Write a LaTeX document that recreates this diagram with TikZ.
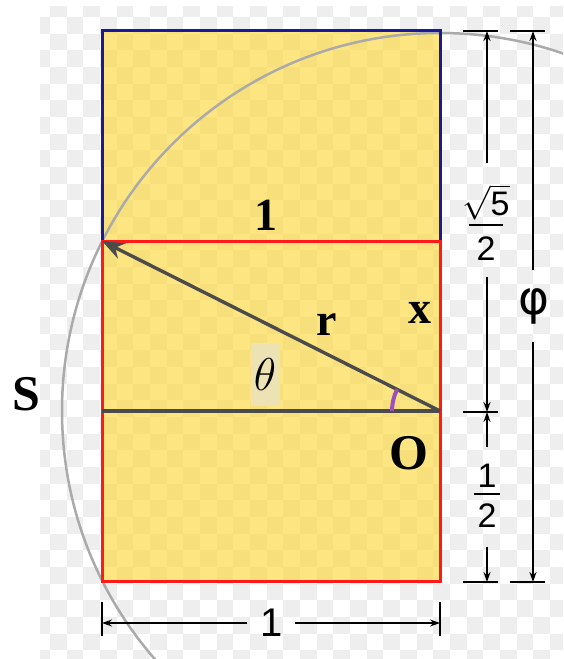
\documentclass[tikz,border=0pt]{standalone}
\usepackage{fix-cm}
\usepackage{fontspec}
\newfontfamily\dimfont{Liberation Sans}
\newfontfamily\phifont{DejaVu Sans}
\newfontfamily\lblfont{Liberation Serif}
\usetikzlibrary{arrows.meta}
\definecolor{chk}{RGB}{238,238,238}
\definecolor{yel}{RGB}{252,217,63}
\definecolor{navyb}{RGB}{26,26,150}
\definecolor{redb}{RGB}{255,25,25}
\definecolor{circc}{RGB}{170,170,170}
\definecolor{dgray}{RGB}{75,75,75}
\definecolor{purp}{RGB}{155,80,190}
\definecolor{thbg}{RGB}{236,226,180}
\begin{document}
\begin{tikzpicture}[x=1pt,y=-1pt,
  dimarrow/.style={line width=1.5pt,-{Stealth[length=10pt,width=7pt]}},
  ticks/.style={line width=1.5pt},
  boldlbl/.style={font=\lblfont\fontsize{46}{52}\selectfont\bfseries,inner sep=0pt},
  biglbl/.style={font=\lblfont\fontsize{50}{56}\selectfont\bfseries,inner sep=0pt},
  dimlbl/.style={font=\dimfont\fontsize{34}{40}\selectfont,inner sep=0pt},
  fracline/.style={line width=1.4pt}]
\useasboundingbox (0,0) rectangle (563,659);
\fill[white] (0,0) rectangle (563,659);
% checkerboard (transparency pattern)
\begin{scope}
\clip (40,6) rectangle (563,659);
\foreach \i in {0,...,32}{
  \foreach \j in {0,...,40}{
    \pgfmathtruncatemacro\chkp{mod(\i+\j,2)}
    \ifnum\chkp=0
      \fill[chk] ({33.33+16.67*\i},{0.33+16.67*\j-16.67}) rectangle ++(16.67,16.67);
    \fi
  }
}
\end{scope}
% key points
\coordinate (O) at (440,411);
\coordinate (A) at (102,241);
\coordinate (M) at (102,411);
% yellow area
\fill[yel,fill opacity=0.65] (102,30) rectangle (440,581);
% circle
\begin{scope}
\clip (0,0) rectangle (563,659);
\draw[circc,line width=2.5pt] (O) circle (378);
\end{scope}
% rectangles
\draw[navyb,line width=3pt] (102,30) rectangle (440,241);
\draw[redb,line width=3pt] (102,241) rectangle (440,581);
% theta background
\fill[thbg] (251,343) rectangle (280,406);
% lines
\draw[dgray,line width=3.4pt] (M) -- (O);
\draw[dgray,line width=3.4pt,-{Stealth[length=22pt,width=17pt]}] (O) -- (A);
\draw[purp,line width=4pt] ([shift={(180:48)}]O) arc[start angle=180,end angle=206.7,radius=48];
% labels
\node[boldlbl] (one) at (266,215) {1};
\node[boldlbl] (xl) at (420,313) {x};
\node[boldlbl] (rl) at (327,325) {r};
\node[biglbl] (Sl) at (26,394) {S};
\node[biglbl] (Ol) at (409,453) {O};
\node[inner sep=0pt,font=\fontsize{46}{52}\selectfont] (th) at (265,375) {$\theta$};
% dimension ticks
\coordinate (t1a) at (463,31); \coordinate (t1b) at (498,31);
\coordinate (t2a) at (510,31); \coordinate (t2b) at (545,31);
\coordinate (m1a) at (463,412); \coordinate (m1b) at (498,412);
\coordinate (b1a) at (463,582); \coordinate (b1b) at (498,582);
\coordinate (b2a) at (510,582); \coordinate (b2b) at (545,582);
\draw[ticks] (t1a) -- (t1b); \draw[ticks] (t2a) -- (t2b);
\draw[ticks] (m1a) -- (m1b);
\draw[ticks] (b1a) -- (b1b); \draw[ticks] (b2a) -- (b2b);
% dimension: sqrt5/2
\coordinate (s1) at (487,163); \coordinate (s2) at (487,277);
\coordinate (s5top) at (487,31); \coordinate (s5bot) at (487,412);
\draw[dimarrow] (s1) -- (s5top);
\draw[dimarrow] (s2) -- (s5bot);
\node[dimlbl] (sq5) at (486,202) {$\sqrt{\mbox{5}}$};
\node[dimlbl] (sq2) at (486,249) {2};
\coordinate (f1a) at (469,225); \coordinate (f1b) at (503,225);
\draw[fracline] (f1a) -- (f1b);
% dimension: 1/2
\coordinate (h1) at (487,447); \coordinate (h2) at (487,547);
\coordinate (hbot) at (487,582);
\draw[dimarrow] (h1) -- (s5bot);
\draw[dimarrow] (h2) -- (hbot);
\node[dimlbl] (hn) at (487,476) {1};
\node[dimlbl] (hd) at (487,516) {2};
\coordinate (f2a) at (474,494); \coordinate (f2b) at (500,494);
\draw[fracline] (f2a) -- (f2b);
% dimension: phi
\coordinate (p1) at (533,270); \coordinate (p2) at (533,342);
\coordinate (ptop) at (533,31); \coordinate (pbot) at (533,582);
\draw[dimarrow] (p1) -- (ptop);
\draw[dimarrow] (p2) -- (pbot);
\node[inner sep=0pt,font=\phifont\fontsize{47}{52}\selectfont] (phi) at (534,306) {φ};
% dimension: bottom 1
\coordinate (w1a) at (102,602); \coordinate (w1b) at (102,636);
\coordinate (w2a) at (440,602); \coordinate (w2b) at (440,636);
\draw[ticks] (w1a) -- (w1b); \draw[ticks] (w2a) -- (w2b);
\coordinate (wl) at (102,623); \coordinate (wr) at (440,623);
\coordinate (g1) at (247,623); \coordinate (g2) at (295,623);
\draw[dimarrow] (g1) -- (wl);
\draw[dimarrow] (g2) -- (wr);
\node[dimlbl,font=\dimfont\fontsize{40}{48}\selectfont] (wone) at (272,623) {1};
\end{tikzpicture}
\end{document}
